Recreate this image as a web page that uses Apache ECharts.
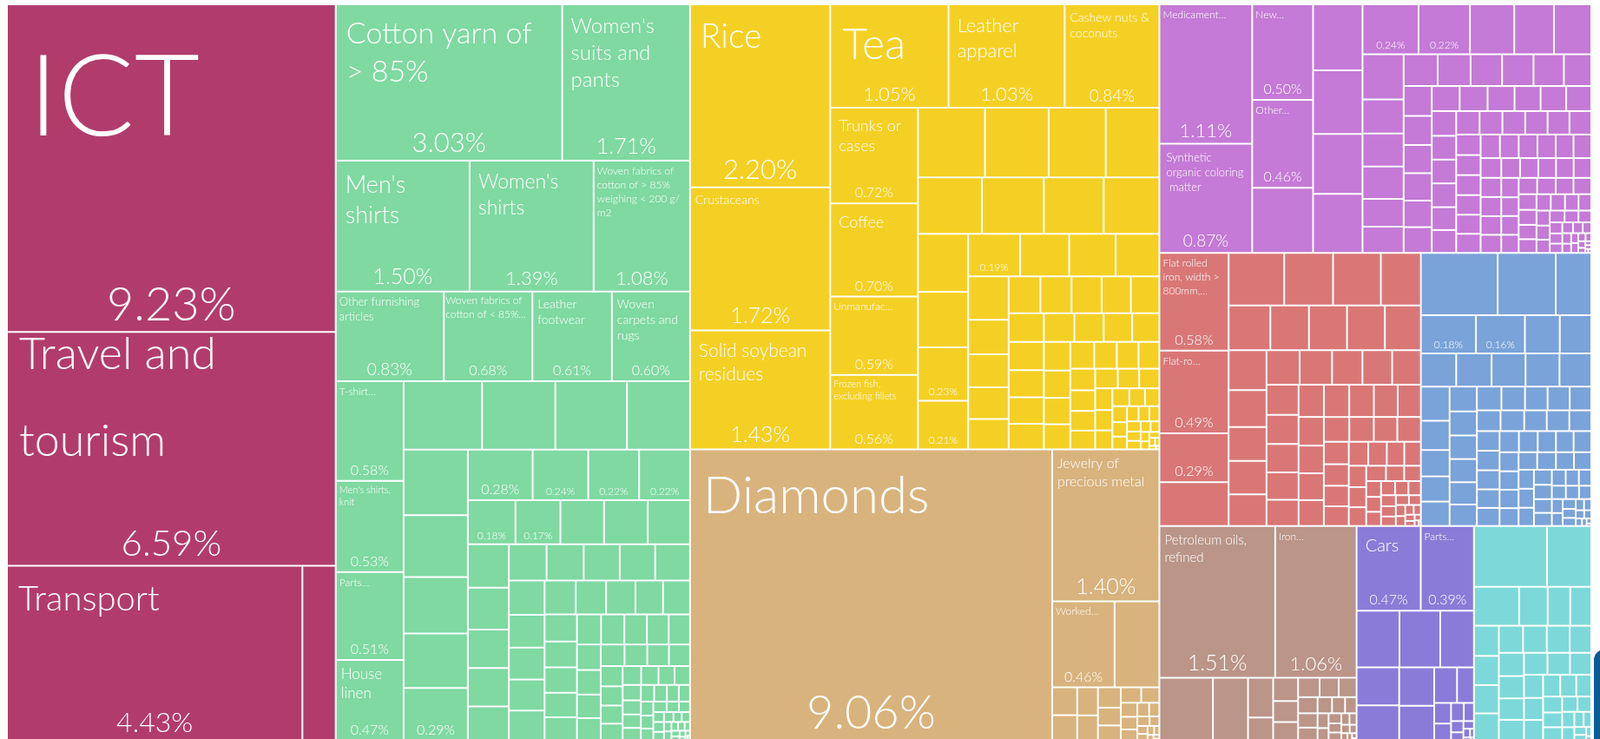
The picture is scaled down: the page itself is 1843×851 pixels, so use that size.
<!DOCTYPE html>
<html>
<head>
<meta charset="utf-8">
<title>India exports treemap</title>
<script src="https://cdn.jsdelivr.net/npm/echarts/dist/echarts.min.js"></script>
<style>
  html, body { margin: 0; padding: 0; background: #fff; }
  #chart { width: 1843px; height: 851px; }
</style>
</head>
<body>
<div id="chart"></div>
<script>
/*** shares of total exports (%) ***/
var sectorNames = ['Services', 'Textiles', 'Agriculture', 'Stone', 'Chemicals', 'Metals', 'Machinery', 'Minerals', 'Vehicles', 'Electronics'];
var sectorShares = [20.75, 22.36, 17.90, 11.72, 9.20, 6.12, 3.99, 3.63, 2.16, 2.16];

// names: missing / null = no label, '' = share only
var servicesNames = ['ICT', 'Travel and tourism', 'Transport'];
var servicesValues = [9.23, 6.59, 4.43, 0.50];

var textileTopNames = ['Cotton yarn of > 85%', "Women's suits and pants", "Men's shirts", "Women's shirts",
  'Woven fabrics of cotton of > 85% weighing < 200 g/m2', 'Other furnishing articles',
  'Woven fabrics of cotton of < 85%…', 'Leather footwear', 'Woven carpets and rugs'];
var textileTopValues = [3.03, 1.71, 1.50, 1.39, 1.08, 0.83, 0.68, 0.61, 0.60];
var textileColNames = ['T-shirt…', "Men's shirts, knit", 'Parts…', 'House linen'];
var textileColValues = [0.58, 0.53, 0.51, 0.47];
var textileRowValues = [0.46, 0.43, 0.42, 0.37];
var textileCol2Names = [null, null, null, null, ''];
var textileCol2Values = [0.36, 0.34, 0.31, 0.30, 0.29];
var textileRestNames = ['', '', '', '', '', ''];
var textileRestValues = [0.28, 0.24, 0.22, 0.22, 0.18, 0.17, 0.165, 0.165, 0.16, 0.152, 0.147, 0.135, 0.135, 0.12,
  0.117, 0.115, 0.112, 0.11, 0.108, 0.105, 0.1, 0.098, 0.095, 0.092, 0.09, 0.088, 0.085, 0.08, 0.078, 0.075,
  0.072, 0.07, 0.068, 0.065, 0.062, 0.06, 0.058, 0.056, 0.055, 0.052, 0.05, 0.048, 0.046, 0.044, 0.042, 0.04,
  0.039, 0.038, 0.036, 0.034, 0.032, 0.03, 0.028, 0.026, 0.025, 0.024, 0.022, 0.021, 0.02, 0.019, 0.018, 0.017,
  0.016, 0.015, 0.014, 0.013, 0.012, 0.011, 0.01, 0.009, 0.009, 0.008, 0.008, 0.007, 0.007, 0.006, 0.006,
  0.005, 0.005, 0.004, 0.004, 0.003, 0.003, 0.002, 0.002, 0.001, 0.001];

var agriTopNames = ['Rice', 'Crustaceans', 'Solid soybean residues', 'Tea', 'Leather apparel', 'Cashew nuts & coconuts'];
var agriTopValues = [2.20, 1.72, 1.43, 1.05, 1.03, 0.84];
var agriColNames = ['Trunks or cases', 'Coffee', 'Unmanufac…', 'Frozen fish, excluding fillets'];
var agriColValues = [0.72, 0.70, 0.59, 0.56];
var agriRestNames = [null, null, null, null, null, null, null, null, null, null, '', '', ''];
var agriRestValues = [0.40, 0.38, 0.34, 0.32, 0.31, 0.30, 0.29, 0.27, 0.25, 0.24, 0.23, 0.21, 0.19, 0.18, 0.17,
  0.16, 0.15, 0.12, 0.115, 0.11, 0.105, 0.1, 0.098, 0.095, 0.092, 0.09, 0.087, 0.085, 0.082, 0.08, 0.077, 0.075,
  0.072, 0.07, 0.067, 0.065, 0.062, 0.06, 0.057, 0.055, 0.052, 0.05, 0.048, 0.046, 0.044, 0.042, 0.04, 0.038,
  0.036, 0.034, 0.032, 0.03, 0.028, 0.026, 0.024, 0.022, 0.02, 0.018, 0.016, 0.015, 0.014, 0.013, 0.012, 0.011,
  0.01, 0.009, 0.008, 0.007, 0.006, 0.005, 0.004, 0.003, 0.002, 0.001];

var stoneNames = ['Diamonds', 'Jewelry of precious metal', 'Worked…'];
var stoneValues = [9.06, 1.40, 0.46, 0.33, 0.06, 0.055, 0.05, 0.045, 0.04, 0.035, 0.03, 0.027, 0.024, 0.02, 0.018,
  0.016, 0.014, 0.012, 0.01, 0.008, 0.007, 0.006, 0.005, 0.004, 0.003, 0.002, 0.001];

var chemTopNames = ['Medicament…', 'Synthetic organic coloring matter'];
var chemTopValues = [1.11, 0.87];
var chemColNames = ['New…', 'Other…'];
var chemColValues = [0.50, 0.46, 0.34];
var chemCol2Values = [0.28, 0.27, 0.255, 0.25];
var chemRestNames = ['', ''];
var chemRestValues = [0.24, 0.22, 0.19, 0.17, 0.16, 0.16, 0.12, 0.117, 0.114, 0.098, 0.093, 0.093, 0.09, 0.086,
  0.086, 0.083, 0.075, 0.072, 0.07, 0.068, 0.066, 0.064, 0.062, 0.06, 0.06, 0.058, 0.056, 0.055, 0.054, 0.052,
  0.05, 0.05, 0.05, 0.048, 0.048, 0.047, 0.046, 0.046, 0.045, 0.044, 0.044, 0.043, 0.042, 0.042, 0.041, 0.04,
  0.04, 0.039, 0.038, 0.038, 0.037, 0.036, 0.036, 0.035, 0.034, 0.034, 0.033, 0.032, 0.032, 0.031, 0.03, 0.03,
  0.03, 0.029, 0.028, 0.028, 0.027, 0.026, 0.026, 0.025, 0.025, 0.024, 0.023, 0.022, 0.021, 0.02, 0.02, 0.019,
  0.018, 0.017, 0.016, 0.015, 0.015, 0.014, 0.013, 0.012, 0.011, 0.01, 0.01, 0.009, 0.008, 0.008, 0.007, 0.006,
  0.006, 0.005, 0.004, 0.004, 0.003, 0.002, 0.002, 0.001, 0.001];

var metalColNames = ['Flat rolled iron, width > 800mm,…', 'Flat-ro…', ''];
var metalColValues = [0.58, 0.49, 0.29, 0.26];
var metalRestValues = [0.25, 0.22, 0.215, 0.18, 0.16, 0.148, 0.146, 0.145, 0.138, 0.13, 0.12, 0.11, 0.108, 0.103,
  0.098, 0.096, 0.09, 0.088, 0.085, 0.083, 0.08, 0.078, 0.075, 0.072, 0.07, 0.07, 0.068, 0.066, 0.064, 0.062,
  0.06, 0.058, 0.056, 0.054, 0.052, 0.05, 0.05, 0.048, 0.046, 0.044, 0.042, 0.04, 0.038, 0.036, 0.034, 0.032,
  0.03, 0.028, 0.026, 0.024, 0.022, 0.02, 0.019, 0.018, 0.017, 0.016, 0.015, 0.014, 0.013, 0.012, 0.011, 0.01,
  0.009, 0.008, 0.007, 0.006, 0.005, 0.004, 0.003, 0.002, 0.001];

var machineryNames = [null, null, null, '', ''];
var machineryValues = [0.41, 0.31, 0.19, 0.18, 0.16, 0.114, 0.103, 0.10, 0.10, 0.096, 0.096, 0.09, 0.084, 0.072,
  0.065, 0.062, 0.06, 0.058, 0.056, 0.055, 0.054, 0.052, 0.05, 0.05, 0.048, 0.046, 0.045, 0.044, 0.042, 0.042,
  0.04, 0.04, 0.039, 0.038, 0.038, 0.037, 0.036, 0.035, 0.035, 0.034, 0.033, 0.032, 0.032, 0.031, 0.03, 0.03,
  0.029, 0.028, 0.028, 0.027, 0.026, 0.025, 0.025, 0.024, 0.023, 0.022, 0.021, 0.02, 0.019, 0.018, 0.017, 0.016,
  0.015, 0.014, 0.013, 0.012, 0.011, 0.01, 0.009, 0.008, 0.007, 0.006, 0.005, 0.004, 0.003, 0.002, 0.001];

var mineralNames = ['Petroleum oils, refined', 'Iron…'];
var mineralValues = [1.51, 1.06, 0.29, 0.19, 0.086, 0.05, 0.05, 0.045, 0.04, 0.036, 0.032, 0.03, 0.027, 0.024,
  0.022, 0.02, 0.018, 0.016, 0.014, 0.012, 0.011, 0.01, 0.009, 0.008, 0.007, 0.006, 0.005, 0.004, 0.003, 0.002, 0.001];

var vehicleNames = ['Cars', 'Parts…'];
var vehicleValues = [0.47, 0.39, 0.21, 0.20, 0.165, 0.14, 0.13, 0.116, 0.106, 0.07, 0.052, 0.03, 0.025, 0.02,
  0.016, 0.012, 0.009, 0.007, 0.005, 0.003, 0.002, 0.001];

var electronicsValues = [0.38, 0.23, 0.15, 0.095, 0.075, 0.07, 0.064, 0.062, 0.06, 0.058, 0.056, 0.055, 0.053,
  0.05, 0.05, 0.048, 0.046, 0.045, 0.044, 0.042, 0.04, 0.038, 0.036, 0.034, 0.032, 0.03, 0.028, 0.026, 0.024,
  0.022, 0.02, 0.018, 0.016, 0.014, 0.012, 0.01, 0.008, 0.006, 0.004, 0.002];

/*** grouping (no values here): how products are nested inside each sector ***/
function P(names, values) { return { names: names, values: values }; }
var sectorParts = [
  [P(servicesNames, servicesValues)],
  [P(textileTopNames, textileTopValues),
    [[P(textileColNames, textileColValues)],
     [P([], textileRowValues), [[P(textileCol2Names, textileCol2Values)], [P(textileRestNames, textileRestValues)]]]]],
  [P(agriTopNames, agriTopValues), [[P(agriColNames, agriColValues)], [P(agriRestNames, agriRestValues)]]],
  [P(stoneNames, stoneValues)],
  [P(chemTopNames, chemTopValues), [P(chemColNames, chemColValues)],
    [[P([], chemCol2Values)], [P(chemRestNames, chemRestValues)]]],
  [[P(metalColNames, metalColValues)], [P([], metalRestValues)]],
  [P(machineryNames, machineryValues)],
  [P(mineralNames, mineralValues)],
  [P(vehicleNames, vehicleValues)],
  [P([], electronicsValues)]
];
// sectors grouped so the squarified layout splits the page into columns
var layoutTree = [[0, [1, [2, 3]]], [4, [[5, 6], [[7, 8], 9]]]];

/*** styles ***/
var sectorColors = ['#B13C6C', '#7FD9A1', '#F5D024', '#D9B37D', '#C47AD6', '#D97777', '#7AA3D9', '#BA9588', '#8B7BD8', '#7DD9D9'];
var FONT = 'Lato, "Source Sans Pro", "Open Sans", sans-serif';
var CLEAR = 'rgba(0,0,0,0)';
var nameFont = {
  'ICT': 130, 'Travel and tourism': 52, 'Transport': 40,
  'Cotton yarn of > 85%': 34, "Women's suits and pants": 24, "Men's shirts": 27, "Women's shirts": 23,
  'Woven fabrics of cotton of > 85% weighing < 200 g/m2': 12, 'Other furnishing articles': 13,
  'Woven fabrics of cotton of < 85%…': 12, 'Leather footwear': 14, 'Woven carpets and rugs': 14,
  'T-shirt…': 12, "Men's shirts, knit": 11, 'Parts…': 12, 'House linen': 17,
  'Rice': 39, 'Tea': 50, 'Leather apparel': 22, 'Cashew nuts & coconuts': 14, 'Crustaceans': 14,
  'Solid soybean residues': 21, 'Trunks or cases': 18, 'Coffee': 18, 'Unmanufac…': 12,
  'Frozen fish, excluding fillets': 11,
  'Diamonds': 60, 'Jewelry of precious metal': 16, 'Worked…': 12,
  'Medicament…': 12, 'Synthetic organic coloring matter': 13, 'New…': 12, 'Other…': 12,
  'Flat rolled iron, width > 800mm,…': 12, 'Flat-ro…': 12,
  'Petroleum oils, refined': 15, 'Iron…': 12, 'Cars': 20
};
var namePad = { 'Synthetic organic coloring matter': 7, 'Woven fabrics of cotton of < 85%…': 1 };
var nameLineHeight = { 'Travel and tourism': 100 };
var nameOffset = { 'Travel and tourism': [0, -25] };

function shareFont(v) {
  if (v >= 9) return 54;
  if (v >= 6) return 42;
  if (v >= 4) return 32;
  if (v >= 2) return 31;
  if (v >= 1.4) return 25;
  if (v >= 1) return 22;
  if (v >= 0.8) return 19;
  if (v >= 0.25) return 16;
  return 12;
}

function nodeLabel(name, value, layer) {
  if (layer === 'cells') {
    if (!name) return { show: false };
    var fs = nameFont[name] || 12;
    var pad = namePad[name] != null ? namePad[name]
      : (fs <= 13 ? 3 : (fs <= 17 ? 5 : Math.round(fs * 0.14 + 6)));
    return {
      show: true, position: 'insideTopLeft', fontSize: fs,
      lineHeight: nameLineHeight[name] || Math.round(fs * 1.3),
      offset: nameOffset[name] || [0, 0],
      padding: [nameOffset[name] ? 0 : pad, pad, 0, pad], overflow: 'break'
    };
  }
  if (name === null) return { show: false };
  var s = shareFont(value);
  return {
    show: true, position: 'insideBottom', fontSize: s, lineHeight: s,
    padding: [0, 2, 3, 2], overflow: 'truncate', formatter: value.toFixed(2) + '%'
  };
}

function groupStyle(layer) {
  return { borderWidth: 0, gapWidth: 0, borderColor: layer === 'cells' ? '#fff' : CLEAR };
}

function buildItems(spec, color, layer) {
  var out = [];
  spec.forEach(function (el) {
    if (Array.isArray(el)) {
      out.push({ name: '', children: buildItems(el, color, layer), itemStyle: groupStyle(layer) });
    } else {
      el.values.forEach(function (v, i) {
        var n = el.names[i] === undefined ? null : el.names[i];
        out.push({
          name: layer === 'cells' ? (n || '') : '',
          value: v,
          itemStyle: {
            color: layer === 'cells' ? color : CLEAR,
            borderColor: layer === 'cells' ? '#fff' : CLEAR,
            borderWidth: 1
          },
          label: nodeLabel(n, v, layer)
        });
      });
    }
  });
  return out;
}

function buildTop(tree, layer) {
  return tree.map(function (el) {
    if (Array.isArray(el)) {
      return { name: '', children: buildTop(el, layer), itemStyle: groupStyle(layer) };
    }
    return {
      name: sectorNames[el],
      value: sectorShares[el],
      children: buildItems(sectorParts[el], sectorColors[el], layer),
      itemStyle: groupStyle(layer)
    };
  });
}

function treemapSeries(layer) {
  return {
    type: 'treemap',
    left: 8, top: 5, width: 1825, height: 848,
    sort: false,
    squareRatio: 1.08,
    roam: false,
    nodeClick: false,
    silent: layer !== 'cells',
    breadcrumb: { show: false },
    upperLabel: { show: false },
    label: { show: false, color: '#fff', fontFamily: FONT, fontWeight: 300 },
    itemStyle: groupStyle(layer),
    data: buildTop(layoutTree, layer)
  };
}

var chart = echarts.init(document.getElementById('chart'));
chart.setOption({
  animation: false,
  textStyle: { fontFamily: FONT },
  series: [treemapSeries('cells'), treemapSeries('shares')],
  graphic: [{
    type: 'rect', left: 1836, top: 748,
    shape: { width: 12, height: 110, r: [12, 0, 0, 0] },
    style: { fill: '#0B5C94' }, silent: true
  }]
});
</script>
</body>
</html>
